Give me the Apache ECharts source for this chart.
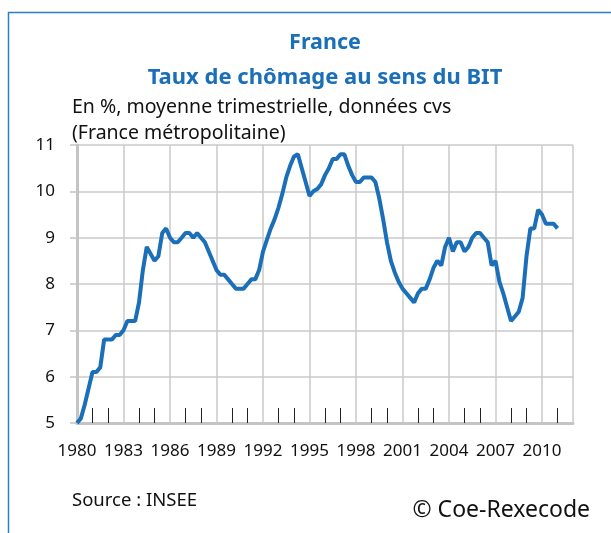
<!DOCTYPE html>
<html>
<head>
<meta charset="utf-8">
<script src="https://cdn.jsdelivr.net/npm/echarts@6/dist/echarts.min.js"></script>
<style>
  html, body { margin: 0; padding: 0; background: #fff; }
  #chart { width: 611px; height: 533px; }
</style>
</head>
<body>
<div id="chart"></div>
<script>
// Taux de chômage BIT, France métropolitaine, trimestriel 1980T1 - 2011T1
var startYear = 1980;
var endYear = 2012;
var unemployment = [
  5.0, 5.1, 5.4, 5.75,
  6.1, 6.1, 6.2, 6.8,
  6.8, 6.8, 6.9, 6.9,
  7.0, 7.2, 7.2, 7.2,
  7.6, 8.3, 8.8, 8.65,
  8.5, 8.6, 9.1, 9.2,
  9.0, 8.9, 8.9, 9.0,
  9.1, 9.1, 9.0, 9.1,
  9.0, 8.9, 8.7, 8.5,
  8.3, 8.2, 8.2, 8.1,
  8.0, 7.9, 7.9, 7.9,
  8.0, 8.1, 8.1, 8.3,
  8.7, 8.95, 9.2, 9.4,
  9.65, 9.95, 10.3, 10.55,
  10.75, 10.8, 10.5, 10.2,
  9.9, 10.0, 10.05, 10.15,
  10.35, 10.5, 10.7, 10.7,
  10.8, 10.8, 10.55, 10.35,
  10.2, 10.2, 10.3, 10.3,
  10.3, 10.2, 9.85, 9.4,
  8.9, 8.5, 8.25, 8.05,
  7.9, 7.8, 7.7, 7.6,
  7.8, 7.9, 7.9, 8.1,
  8.35, 8.5, 8.4, 8.8,
  9.0, 8.7, 8.9, 8.9,
  8.7, 8.8, 9.0, 9.1,
  9.1, 9.0, 8.9, 8.4,
  8.5, 8.05, 7.8, 7.5,
  7.2, 7.3, 7.4, 7.7,
  8.6, 9.2, 9.2, 9.6,
  9.5, 9.3, 9.3, 9.3,
  9.2
];
var yTicks = [5, 6, 7, 8, 9, 10, 11];

// axe des trimestres : 1980T1 ... 2012T1
var quarters = [];
for (var y = startYear; y < endYear; y++) {
  for (var q = 1; q <= 4; q++) quarters.push(y + 'T' + q);
}
quarters.push(endYear + 'T1');
var lastIdx = quarters.length - 1;

var blue = '#1a6fb8';
var font = '"Noto Sans", sans-serif';

var myChart = echarts.init(document.getElementById('chart'));
var option = {
  backgroundColor: '#fff',
  animation: false,
  grid: { left: 77, right: 38, top: 145, bottom: 110 },
  xAxis: {
    type: 'category',
    data: quarters,
    boundaryGap: false,
    axisLine: { show: true, lineStyle: { color: '#c4c4c4', width: 3 } },
    axisTick: {
      show: true, inside: true, length: 15,
      interval: function (i) { return i % 4 === 0 && i % 12 !== 0 && i !== lastIdx; },
      lineStyle: { color: '#222', width: 1 }
    },
    axisLabel: {
      interval: function (i) { return i % 12 === 0 && i !== lastIdx; },
      formatter: function (v) { return v.slice(0, 4); },
      color: '#111', fontSize: 17, fontFamily: font, margin: 20
    },
    splitLine: {
      show: true,
      interval: function (i) { return i % 12 === 0 || i === lastIdx; },
      lineStyle: { color: '#cacaca', width: 1.5 }
    }
  },
  yAxis: {
    type: 'value',
    min: yTicks[0],
    max: yTicks[yTicks.length - 1],
    interval: 1,
    axisLine: { show: true, lineStyle: { color: '#c4c4c4', width: 3 } },
    axisTick: { show: true, length: 7, lineStyle: { color: '#c4c4c4', width: 1.5 } },
    axisLabel: { color: '#111', fontSize: 17, fontFamily: font, margin: 22 },
    splitLine: { lineStyle: { color: '#cacaca', width: 1.5 } }
  },
  series: [{
    type: 'line',
    data: unemployment,
    symbol: 'none',
    lineStyle: { color: blue, width: 4 },
    z: 5
  }],
  graphic: [
    { type: 'rect', shape: { x: 8.5, y: 12.5, width: 700, height: 600 },
      style: { fill: null, stroke: '#2a7fc6', lineWidth: 1.5 }, silent: true },
    { type: 'text', x: 325, y: 43, style: { text: 'France', fill: blue,
      font: 'bold 21.5px ' + font, textAlign: 'center', textVerticalAlign: 'middle' } },
    { type: 'text', x: 325, y: 78, style: { text: 'Taux de chômage au sens du BIT', fill: blue,
      font: 'bold 22px ' + font, textAlign: 'center', textVerticalAlign: 'middle' } },
    { type: 'text', x: 72, y: 107, style: { text: 'En %, moyenne trimestrielle, données cvs', fill: '#111',
      font: '19.5px ' + font, textAlign: 'left', textVerticalAlign: 'middle' } },
    { type: 'text', x: 72, y: 133, style: { text: '(France métropolitaine)', fill: '#111',
      font: '19.5px ' + font, textAlign: 'left', textVerticalAlign: 'middle' } },
    { type: 'text', x: 72, y: 501, style: { text: 'Source : INSEE', fill: '#111',
      font: '18.5px ' + font, textAlign: 'left', textVerticalAlign: 'middle' } },
    { type: 'text', x: 590, y: 510, style: { text: '© Coe-Rexecode', fill: '#111',
      font: '23px ' + font, textAlign: 'right', textVerticalAlign: 'middle' } }
  ]
};
myChart.setOption(option);
</script>
</body>
</html>
